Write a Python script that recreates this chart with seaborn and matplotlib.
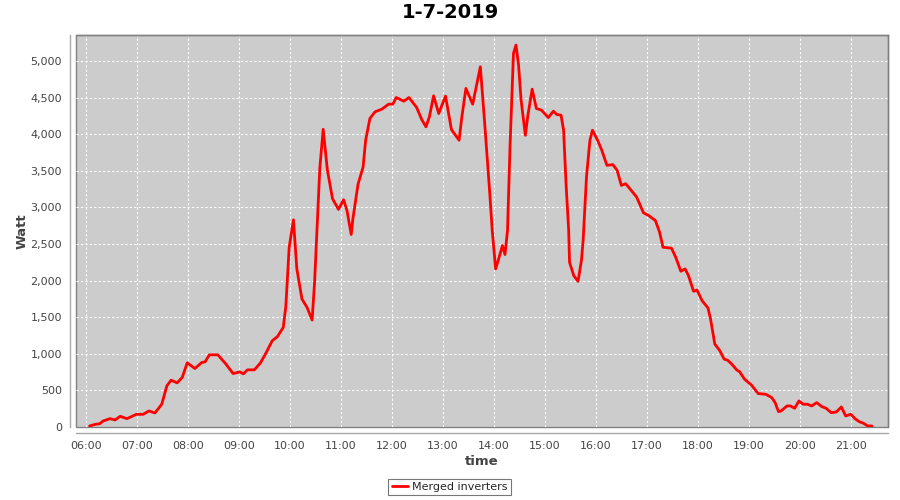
import pandas as pd
import matplotlib.pyplot as plt
import matplotlib.dates as mdates
import matplotlib.ticker as mticker
import seaborn as sns

# Readings for 1-7-2019
times = ['06:04', '06:11', '06:16', '06:20', '06:28', '06:34', '06:40', '06:48', '06:59',
         '07:07', '07:14', '07:21', '07:29', '07:35', '07:40', '07:47', '07:53', '07:59',
         '08:08', '08:16', '08:20', '08:25', '08:35', '08:44', '08:53', '09:01', '09:05',
         '09:10', '09:18', '09:25', '09:31', '09:39', '09:45', '09:52', '09:55', '09:59',
         '10:04', '10:08', '10:14', '10:20', '10:26', '10:29', '10:35', '10:39', '10:44',
         '10:50', '10:57', '11:03', '11:07', '11:12', '11:14', '11:20', '11:22', '11:26',
         '11:29', '11:34', '11:40', '11:48', '11:56', '12:01', '12:05', '12:14', '12:20',
         '12:29', '12:35', '12:40', '12:44', '12:49', '12:55', '13:03', '13:10', '13:19',
         '13:22', '13:27', '13:35', '13:40', '13:44', '13:49', '13:55', '13:58', '14:02',
         '14:05', '14:10', '14:13', '14:16', '14:19', '14:23', '14:26', '14:29', '14:32',
         '14:37', '14:40', '14:45', '14:50', '14:56', '15:04', '15:10', '15:14', '15:19',
         '15:22', '15:25', '15:28', '15:29', '15:34', '15:39', '15:43', '15:45', '15:49',
         '15:53', '15:56', '16:02', '16:07', '16:13', '16:20', '16:25', '16:30', '16:35',
         '16:40', '16:48', '16:56', '17:02', '17:10', '17:15', '17:19', '17:29', '17:34',
         '17:40', '17:45', '17:49', '17:55', '17:59', '18:05', '18:12', '18:15', '18:20',
         '18:26', '18:31', '18:35', '18:40', '18:46', '18:49', '18:55', '19:03', '19:11',
         '19:20', '19:27', '19:31', '19:35', '19:38', '19:45', '19:49', '19:54', '19:59',
         '20:04', '20:09', '20:14', '20:20', '20:26', '20:31', '20:37', '20:43', '20:49',
         '20:54', '21:00', '21:05', '21:10', '21:15', '21:20', '21:25']

watts = [14, 37, 45, 82, 114, 96, 146, 114, 173,
         173, 219, 192, 311, 562, 640, 603, 675, 877,
         799, 881, 890, 986, 986, 867, 730, 753, 726,
         781, 781, 873, 996, 1178, 1233, 1360, 1644, 2456,
         2830, 2160, 1749, 1635, 1461, 2000, 3530, 4068, 3507,
         3119, 2973, 3105, 2959, 2630, 2845, 3315, 3393, 3552,
         3918, 4215, 4306, 4342, 4411, 4411, 4502, 4452, 4502,
         4366, 4201, 4101, 4237, 4525, 4283, 4521, 4064, 3918,
         4215, 4626, 4411, 4694, 4922, 4169, 3210, 2685, 2160,
         2274, 2479, 2356, 2685, 3849, 5105, 5219, 4945, 4466,
         3986, 4260, 4616, 4352, 4329, 4228, 4315, 4270, 4260,
         4055, 3301, 2685, 2251, 2068, 1990, 2274, 2548, 3425,
         3918, 4055, 3918, 3781, 3575, 3585, 3507, 3301, 3324,
         3256, 3141, 2927, 2890, 2822, 2662, 2456, 2443, 2319,
         2128, 2160, 2068, 1854, 1872, 1726, 1626, 1475, 1133,
         1041, 927, 913, 859, 777, 758, 653, 575, 457,
         447, 402, 333, 210, 219, 288, 288, 256, 356,
         311, 311, 288, 333, 278, 256, 196, 205, 274,
         151, 174, 114, 73, 51, 14, 14]

df = pd.DataFrame({'time': pd.to_datetime(['2019-07-01 ' + t for t in times]),
                   'watt': watts})

sns.set_style('white')
plt.rcParams['font.family'] = ['DejaVu Sans']

fig = plt.figure(figsize=(9, 5), dpi=100)
ax = fig.add_axes([0.0844, 0.146, 0.9022, 0.784])
ax.set_facecolor('#cccccc')

sns.lineplot(data=df, x='time', y='watt', color='red', linewidth=2,
             label='Merged inverters', ax=ax)

day = pd.Timestamp('2019-07-01')
ax.set_xlim(day + pd.Timedelta(hours=5.80), day + pd.Timedelta(hours=21.73))
ax.set_ylim(0, 5356)

ax.xaxis.set_major_locator(mdates.HourLocator())
ax.xaxis.set_major_formatter(mdates.DateFormatter('%H:%M'))
ax.yaxis.set_major_locator(mticker.MultipleLocator(500))
ax.yaxis.set_major_formatter(mticker.StrMethodFormatter('{x:,.0f}'))

ax.grid(True, color='white', linestyle=(0, (2, 2)), linewidth=0.8)
ax.set_axisbelow(True)

# plot outline plus offset axis lines, like the original
ax.patch.set_edgecolor('#808080')
ax.patch.set_linewidth(1)
for side in ['top', 'right']:
    ax.spines[side].set_color('#808080')
    ax.spines[side].set_linewidth(1)
for side in ['left', 'bottom']:
    ax.spines[side].set_position(('outward', 4))
    ax.spines[side].set_color('#a8a8a8')
    ax.spines[side].set_linewidth(1)

ax.tick_params(axis='both', direction='out', length=3, width=0.8, color='#a8a8a8',
               labelsize=8, labelcolor='#444444', pad=3)

ax.set_xlabel('time', fontsize=9.5, fontweight='bold', color='#444444', labelpad=3)
ax.set_ylabel('Watt', fontsize=9.5, fontweight='bold', color='#444444', labelpad=1)
fig.suptitle('1-7-2019', fontsize=14, fontweight='bold', color='black', y=0.995)

leg = ax.legend(loc='center', bbox_to_anchor=(0.4994, 0.026),
                bbox_transform=fig.transFigure,
                fontsize=8, frameon=True, fancybox=False, handlelength=1.5,
                borderpad=0.3, handletextpad=0.3, borderaxespad=0)
leg.get_frame().set_edgecolor('#555555')
leg.get_frame().set_linewidth(0.8)

fig.savefig('out.png', dpi=100)
